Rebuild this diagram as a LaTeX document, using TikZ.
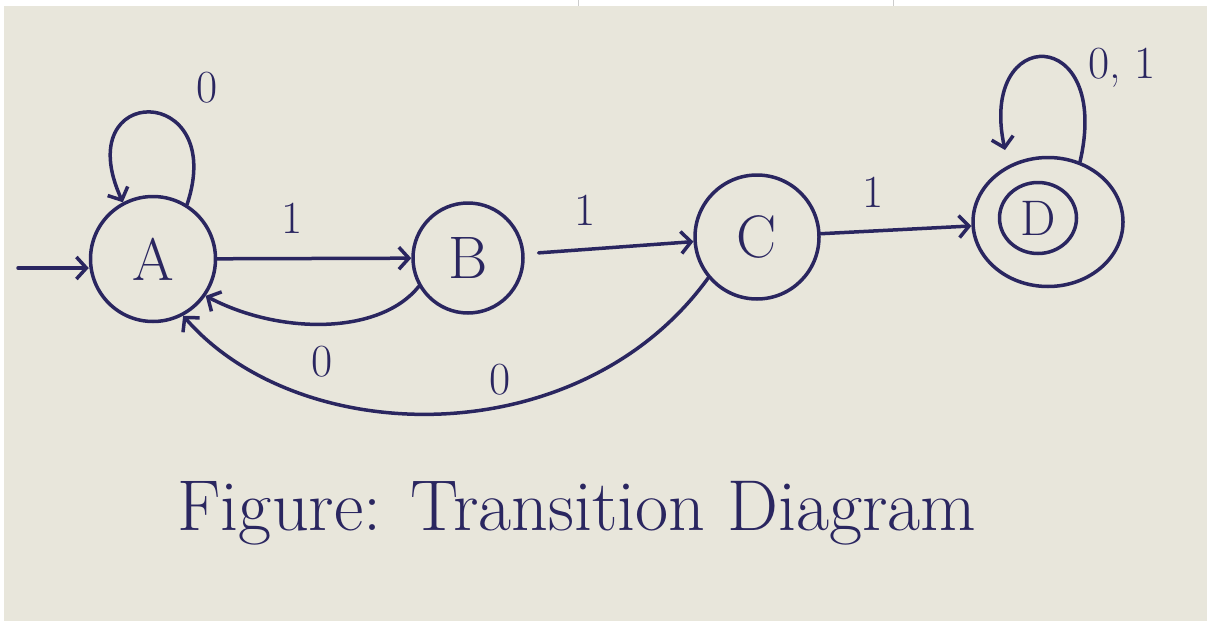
\documentclass[tikz,border=0pt]{standalone}
\usetikzlibrary{arrows.meta,shapes.geometric}
\definecolor{ink}{HTML}{2A2660}
\definecolor{paper}{HTML}{E8E6DB}
\begin{document}
\begin{tikzpicture}[x=1pt,y=-1pt,
  inkline/.style={line width=3.5pt, draw=ink, line cap=round},
  state/.style={draw=ink, circle, line width=3.5pt, text=ink, font=\fontsize{60}{60}\selectfont, inner sep=0pt},
  edgelbl/.style={text=ink, font=\fontsize{46}{46}\selectfont, inner sep=0pt},
  arr/.style={inkline, -{Straight Barb[length=10pt,width=22pt,line width=3.5pt]}}
]
\useasboundingbox (0,0) rectangle (1207,621);
\fill[white] (0,0) rectangle (1207,621);
\fill[paper] (4,6) rectangle (1207,621);
\draw[gray!40, line width=1pt] (578,0) -- (578,6);
\draw[gray!40, line width=1pt] (893,0) -- (893,6);

\node[state, minimum size=125pt] (A) at (153,259) {A};
\node[state, minimum size=110pt] (B) at (468,258) {B};
\node[state, minimum size=124pt] (C) at (757,237) {C};
\node[draw=ink, ellipse, line width=3.5pt, minimum width=150pt, minimum height=129pt] (D) at (1048,222) {};
\node[draw=ink, ellipse, line width=3.5pt, minimum width=77pt, minimum height=71pt, text=ink, font=\fontsize{50}{50}\selectfont, inner sep=0pt] (Din) at (1038,218) {D};

\coordinate (s) at (18,268);
\draw[arr] (s) -- (A.west |- s);
\draw[arr] (A) -- (B);
\draw[arr, shorten <=14pt] (B) -- (C);
\draw[arr] (C) -- (D);
\draw[arr] (B.210) .. controls (380,335) and (280,335) .. (A.-35);
\draw[arr] (C.220) .. controls (580,455) and (300,450) .. (A.-62);
\draw[arr] (A.58) .. controls (228,82) and (68,82) .. (A.118);
\coordinate (Dloopend) at (1005,150);
\draw[arr] (D.62) .. controls (1112,24) and (978,24) .. (Dloopend);

\node[edgelbl] (lA) at (207,88) {0};
\node[edgelbl] (lAB) at (292,218) {1};
\node[edgelbl] (lBC) at (585,210) {1};
\node[edgelbl] (lCD) at (873,192) {1};
\node[edgelbl] (lBA) at (322,362) {0};
\node[edgelbl] (lCA) at (500,380) {0};
\node[edgelbl, anchor=west] (lD) at (1088,68) {0, 1};

\node[text=ink, font=\fontsize{72}{72}\selectfont, anchor=base, inner sep=0pt] (cap) at (577,530) {Figure: Transition Diagram};
\end{tikzpicture}
\end{document}
